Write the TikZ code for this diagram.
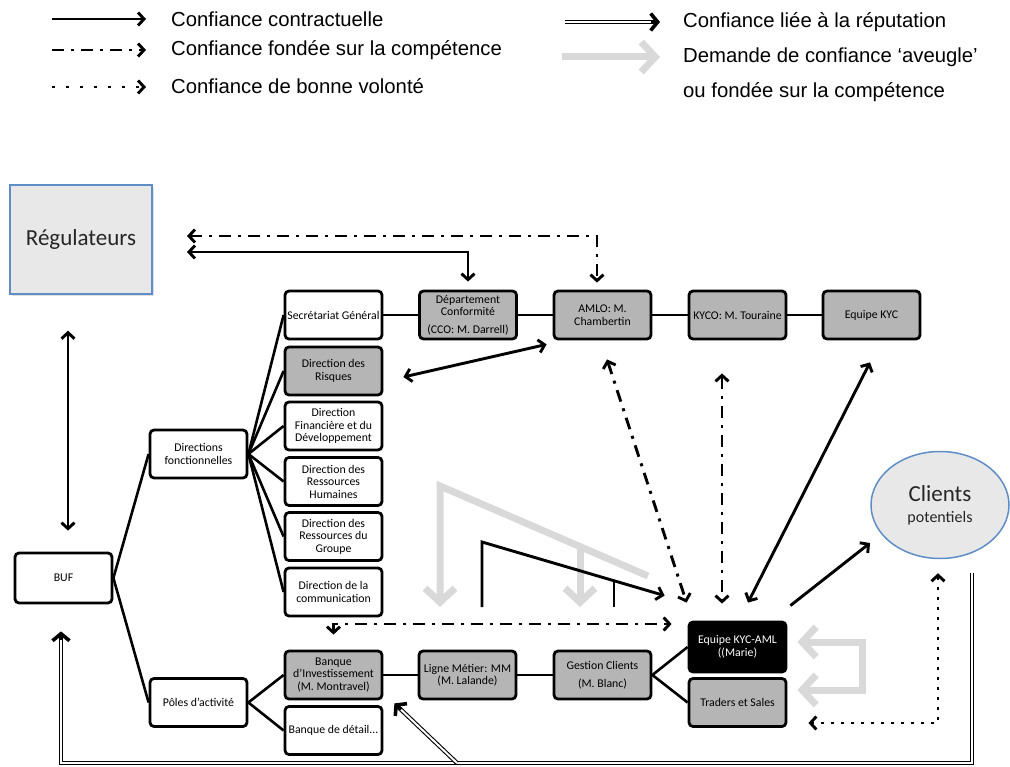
\documentclass[tikz,border=0pt]{standalone}
\usepackage{fontspec}
\setmainfont{Carlito}
\newfontfamily\legendfont{Liberation Sans}
\usetikzlibrary{arrows.meta,calc,shapes.geometric,shadows}
\definecolor{boxgray}{RGB}{181,181,181}
\definecolor{lightgr}{RGB}{217,217,217}
\definecolor{regblue}{RGB}{95,142,198}
\definecolor{texfill}{RGB}{232,232,232}
\begin{document}
\begin{tikzpicture}[x=1pt,y=-1pt,
  box/.style={draw=black, line width=2.8pt, rounded corners=4pt, minimum width=97pt, minimum height=48pt,
    align=center, inner sep=0.5pt, font=\fontsize{11.8}{12.5}\selectfont, text=black},
  gbox/.style={box, fill=boxgray},
  wbox/.style={box, fill=white},
  tree/.style={line width=2.6pt},
  con/.style={line width=2.9pt, >={Straight Barb[length=6pt,width=13pt]}},
  dd/.style={con, dash pattern=on 12pt off 7pt on 3pt off 7pt},
  dot/.style={con, dash pattern=on 3pt off 7pt},
  ldot/.style={con, dash pattern=on 3pt off 11pt},
  dbl/.style={double=white, double distance=2pt, line width=1.1pt},
  dbltip/.style={line width=3.6pt, -{Straight Barb[length=7pt,width=17pt]}},
  gr/.style={draw=lightgr, line width=7pt, >={Straight Barb[length=14pt,width=30pt]}},
  legtext/.style={anchor=west, inner sep=0pt, font=\legendfont\fontsize{20.3}{22}\selectfont},
]
\useasboundingbox (0,0) rectangle (1010,767);

% ---------- legend ----------
\coordinate (la1) at (52,19);  \coordinate (la2) at (146,19);
\coordinate (lb1) at (52,50);  \coordinate (lb2) at (146,50);
\coordinate (lc1) at (52,87);  \coordinate (lc2) at (146,87);
\coordinate (ld1) at (565,22); \coordinate (ld2) at (660,22);
\coordinate (le1) at (562,57); \coordinate (le2) at (660,57);
\draw[con,->] (la1) -- (la2);
\draw[dd,->] (lb1) -- (lb2);
\draw[ldot,->] (lc1) -- (lc2);
\draw[dbl, shorten >=4pt] (ld1) -- (ld2);
\draw[dbltip] ($(ld2)!9pt!(ld1)$) -- (ld2);
\draw[gr,->] (le1) -- (le2);
\node[legtext] (t1) at (171,19) {Confiance contractuelle};
\node[legtext] (t2) at (171,50) {Confiance fondée sur la compétence};
\node[legtext] (t3) at (171,86) {Confiance de bonne volonté};
\node[legtext] (t4) at (683,22) {Confiance liée à la réputation};
\node[legtext] (t5) at (683,57) {Demande de confiance ‘aveugle’};
\node[legtext] (t6) at (683,92) {ou fondée sur la compétence};

% ---------- gray "blind trust" arrows (background) ----------
\coordinate (g1) at (440,607); \coordinate (g2) at (440,486); \coordinate (g3) at (648,576);
\coordinate (g4) at (580,547); \coordinate (g5) at (580,607);
\draw[gr,<-] (g1) -- (g2) -- (g3);
\draw[gr,->] (g4) -- (g5);

% ---------- nodes ----------
\node[draw=regblue, line width=1.5pt, fill=texfill, minimum width=142pt, minimum height=109pt,
  drop shadow={opacity=0.25, shadow xshift=2pt, shadow yshift=-2pt},
  font=\fontsize{23}{26}\selectfont, text=black!85] (reg) at (81,239.5) {\raisebox{-3pt}{Régulateurs}};
\node[draw=regblue, line width=1.5pt, fill=texfill, ellipse, minimum width=138pt, minimum height=107pt,
  align=center, text=black!85, inner sep=0pt, font=\fontsize{16}{23}\selectfont] (clients) at (940,505)
  {\raisebox{-2pt}{\fontsize{23}{25}\selectfont Clients}\\potentiels};

\node[wbox, minimum height=50pt] (buf) at (63.5,578) {BUF};
\node[wbox] (dirf) at (198.5,454) {Directions\\fonctionnelles};
\node[wbox] (poles) at (198.5,702.5) {Pôles d'activité};

\node[wbox] (secr) at (333.5,315) {Secrétariat Général};
\node[gbox] (risq) at (333.5,371) {Direction des\\Risques};
\node[wbox] (fin) at (333.5,426) {Direction\\Financière et du\\Développement};
\node[wbox] (rh) at (333.5,481.5) {Direction des\\Ressources\\Humaines};
\node[wbox] (grp) at (333.5,536.5) {Direction des\\Ressources du\\Groupe};
\node[wbox] (com) at (333.5,592) {Direction de la\\communication};
\node[gbox] (bi) at (333.5,675) {Banque\\d'Investissement\\(M. Montravel)};
\node[wbox] (bd) at (333.5,730.5) {Banque de détail...};

\node[gbox] (dep) at (468,315) {Département\\Conformité\\[5pt](CCO: M. Darrell)};
\node[gbox] (amlo) at (602.5,315) {AMLO: M.\\Chambertin};
\node[gbox] (kyco) at (737.5,315) {KYCO: M. Touraine};
\node[gbox] (ekyc) at (871.5,315) {Equipe KYC};

\node[gbox] (lm) at (467.5,675) {Ligne Métier: MM\\(M. Lalande)};
\node[gbox] (gc) at (602.5,675) {Gestion Clients\\[6pt](M. Blanc)};
\node[box, fill=black, text=white, minimum height=50pt] (kycaml) at (737.5,647) {Equipe KYC-AML\\((Marie)};
\node[gbox] (ts) at (737.5,702.5) {Traders et Sales};

% ---------- organisation tree ----------
\draw[tree] (buf.east) -- (dirf.west);
\draw[tree] (buf.east) -- (poles.west);
\foreach \n in {secr,risq,fin,rh,grp,com} \draw[tree] (dirf.east) -- (\n.west);
\draw[tree] (poles.east) -- (bi.west);
\draw[tree] (poles.east) -- (bd.west);
\draw[tree] (secr) -- (dep) -- (amlo) -- (kyco) -- (ekyc);
\draw[tree] (bi) -- (lm) -- (gc);
\draw[tree] (gc.east) -- (kycaml.west);
\draw[tree] (gc.east) -- (ts.west);

% ---------- trust connectors ----------
\coordinate (regA) at (187,252);
\coordinate (regB) at (187,236);
\draw[con,<->] (regA) -| ([yshift=8pt]dep.north);
\draw[dd,<->] (regB) -| ([xshift=-5.5pt,yshift=7pt]amlo.north);
\draw[con,<->] ([xshift=-13pt,yshift=-36pt]reg.south) -- ([xshift=4.5pt,yshift=21pt]buf.north);
\draw[con,<->] ([xshift=20pt,yshift=-6pt]risq.east) -- ([xshift=-6pt,yshift=-4pt]amlo.south west);
\draw[dd,<->] ([xshift=4.5pt,yshift=-19pt]amlo.south) -- ([xshift=-1pt,yshift=18pt]kycaml.north west);
\draw[dd,<->] ([xshift=-15.5pt,yshift=-33pt]kyco.south) -- ([xshift=-15.5pt,yshift=17pt]kycaml.north);
\draw[con,<->] ([xshift=-1.5pt,yshift=-22pt]ekyc.south) -- ([xshift=10.5pt,yshift=18pt]kycaml.north);
\draw[con,->] ([xshift=3pt,yshift=15pt]kycaml.north east) -- ([xshift=-70pt,yshift=-38pt]clients.center);
\draw[dot,<->] ([xshift=-2pt,yshift=-14pt]clients.south) |- ([xshift=21pt,yshift=-20.5pt]ts.east);
\draw[dd,<->] ([yshift=15pt]bi.north) |- ([xshift=-16pt,yshift=23pt]kycaml.west);

% black contractual structure
\coordinate (b1) at (482,607); \coordinate (b2) at (482,542);
\coordinate (b3) at (614,607); \coordinate (b4) at (614,582);
\draw[con,->] (b1) -- (b2) -- ([xshift=-23pt,yshift=25pt]kycaml.north west);
\draw[con] (b3) -- (b4);

% gray arrows on the right
\coordinate (g6) at (862,642); \coordinate (g7) at (862,690);
\draw[gr,<->] ([xshift=10pt,yshift=5pt]kycaml.east) -- (g6) -- (g7) -- ([xshift=10pt,yshift=12.5pt]ts.east);

% reputation (double line)
\coordinate (dS) at (972,573); \coordinate (dC) at (972,763); \coordinate (dB) at (457,763);
\coordinate (dE) at ([xshift=-2.5pt,yshift=-27pt]buf.south);
\coordinate (dF) at ([xshift=11pt,yshift=-3pt]bi.south east);
\draw[dbl, shorten >=4pt] (dS) -- (dC) -| (dE);
\draw[dbltip] ($(dE)!9pt!(dE |- dC)$) -- (dE);
\draw[dbl, shorten >=4pt] (dB) -- (dF);
\draw[dbltip] ($(dF)!9pt!(dB)$) -- (dF);
\end{tikzpicture}
\end{document}
